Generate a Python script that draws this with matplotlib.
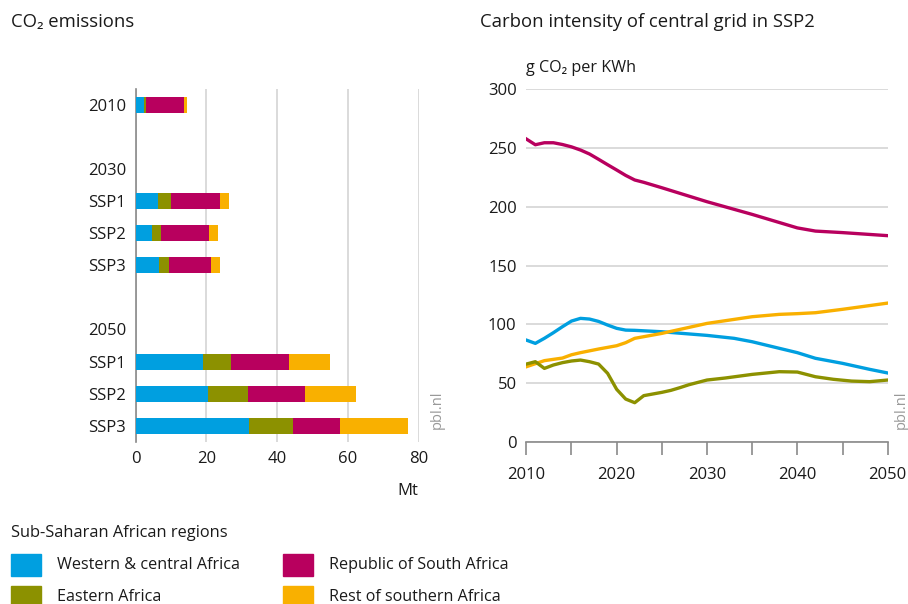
import matplotlib.pyplot as plt
from matplotlib.patches import Rectangle

plt.rcParams['font.family'] = ['Open Sans', 'DejaVu Sans']

# left chart: CO2 emissions (Mt), stacked by region
row_labels = ['2010', '', '2030', 'SSP1', 'SSP2', 'SSP3', '', '2050', 'SSP1', 'SSP2', 'SSP3']
bar_rows = [0, 3, 4, 5, 8, 9, 10]
western_central = [2.3, 6.2, 4.5, 6.6, 19.1, 20.4, 32.0]
eastern = [0.5, 3.8, 2.7, 2.8, 7.8, 11.3, 12.5]
south_africa = [10.8, 13.8, 13.5, 11.9, 16.4, 16.2, 13.3]
rest_southern = [0.8, 2.6, 2.6, 2.5, 11.6, 14.4, 19.2]

# right chart: carbon intensity (g CO2 per KWh), SSP2
yr_magenta = [2010, 2011, 2012, 2013, 2014, 2015, 2016, 2017, 2018, 2019, 2020, 2021, 2022,
              2023, 2025, 2030, 2035, 2040, 2042, 2045, 2050]
val_magenta = [257.7, 252.8, 254.5, 254.5, 253, 251, 248.3, 244.9, 240.4, 235.8, 231.3, 226.7,
               222.8, 220.8, 216.2, 204.3, 193.5, 182, 179.3, 178, 175.4]
yr_blue = [2010, 2011, 2012, 2013, 2014, 2015, 2016, 2017, 2018, 2019, 2020, 2021, 2022,
           2025, 2030, 2033, 2035, 2038, 2040, 2042, 2045, 2048, 2050]
val_blue = [86.5, 83.7, 88, 92.8, 97.9, 102.7, 105, 104.4, 102.4, 99.3, 96.5, 95, 94.8,
            93.6, 90.5, 88, 85.1, 79.5, 75.8, 71, 66.7, 61.6, 58.5]
yr_orange = [2010, 2012, 2014, 2015, 2016, 2018, 2020, 2021, 2022, 2023, 2025, 2027, 2030,
             2035, 2038, 2040, 2042, 2045, 2050]
val_orange = [63.8, 69, 71.2, 74, 75.8, 78.9, 81.7, 84.3, 88, 89.4, 92.2, 95.6, 100.7,
              106.4, 108.4, 109, 109.8, 112.7, 118]
yr_olive = [2010, 2011, 2012, 2013, 2014, 2015, 2016, 2017, 2018, 2019, 2020, 2021, 2022,
            2023, 2024, 2025, 2026, 2027, 2028, 2030, 2032, 2035, 2038, 2040, 2042, 2044,
            2046, 2048, 2050]
val_olive = [66.1, 68.1, 62.4, 65.3, 67.3, 68.7, 69.5, 68.1, 66.1, 58.2, 44.6, 36.3, 33.2,
             39.2, 40.6, 42, 43.7, 46, 48.5, 52.5, 54.2, 57.3, 59.6, 59.3, 55.3, 53.1,
             51.6, 51.1, 52.5]

blue = '#009fe0'
olive = '#8c9100'
magenta = '#b8005e'
orange = '#f9b000'
txt = '#1a1a1a'
grid = '#d4d4d4'
axis_c = '#8a8a8a'

W, H = 908, 604
fig = plt.figure(figsize=(W / 100, H / 100), dpi=100)


def box(x0, y0, x1, y1):
    return [x0 / W, 1 - y1 / H, (x1 - x0) / W, (y1 - y0) / H]


# ---- left: stacked bars
ax1 = fig.add_axes(box(135.7, 89, 418.7, 441.7))
left = [0] * len(bar_rows)
for vals, c in [(western_central, blue), (eastern, olive), (south_africa, magenta), (rest_southern, orange)]:
    ax1.barh(bar_rows, vals, left=left, height=0.5, color=c, zorder=3)
    left = [l + v for l, v in zip(left, vals)]
ax1.set_xlim(0, 80)
ax1.set_ylim(10.5, -0.5)
ax1.set_xticks([0, 20, 40, 60, 80])
ax1.set_yticks(range(len(row_labels)))
ax1.set_yticklabels(row_labels)
ax1.xaxis.grid(True, color=grid, lw=1.2, zorder=0)
for s in ['top', 'right', 'bottom']:
    ax1.spines[s].set_visible(False)
ax1.spines['left'].set_color(axis_c)
ax1.spines['left'].set_linewidth(1.2)
ax1.tick_params(length=0, labelsize=12, colors=txt, pad=7)
ax1.tick_params(axis='x', pad=7)

# ---- right: lines
ax2 = fig.add_axes(box(526.3, 89.3, 887.7, 441.7))
ax2.plot(yr_magenta, val_magenta, color=magenta, lw=2.4, zorder=3)
ax2.plot(yr_blue, val_blue, color=blue, lw=2.4, zorder=3)
ax2.plot(yr_orange, val_orange, color=orange, lw=2.4, zorder=3)
ax2.plot(yr_olive, val_olive, color=olive, lw=2.4, zorder=3)
ax2.set_xlim(2010, 2050)
ax2.set_ylim(0, 300)
ax2.set_xticks([2010, 2020, 2030, 2040, 2050])
ax2.set_xticks(range(2015, 2050, 10), minor=True)
ax2.set_yticks([0, 50, 100, 150, 200, 250, 300])
ax2.yaxis.grid(True, color=grid, lw=1.2, zorder=0)
for s in ['top', 'right', 'left']:
    ax2.spines[s].set_visible(False)
ax2.spines['bottom'].set_color(axis_c)
ax2.spines['bottom'].set_linewidth(1.2)
ax2.tick_params(axis='y', length=0, labelsize=12, colors=txt, pad=7)
ax2.tick_params(axis='x', which='both', length=9, width=1.2, color=axis_c, labelsize=12,
                labelcolor=txt, pad=9)

# ---- texts
fig.text(11 / W, 1 - 22 / H, 'CO₂ emissions', fontsize=13.3, color=txt, va='center')
fig.text(480 / W, 1 - 22 / H, 'Carbon intensity of central grid in SSP2', fontsize=13.3,
         color=txt, va='center')
fig.text(526 / W, 1 - 68 / H, 'g CO₂ per KWh', fontsize=11.6, color=txt, va='center')
fig.text(418 / W, 1 - 491 / H, 'Mt', fontsize=12, color=txt, va='center', ha='right')
fig.text(437 / W, 1 - 410 / H, 'pbl.nl', fontsize=10.5, color='#999999', rotation=90,
         va='center', ha='center')
fig.text(901 / W, 1 - 410 / H, 'pbl.nl', fontsize=10.5, color='#999999', rotation=90,
         va='center', ha='center')

# ---- legend
fig.text(11 / W, 1 - 533 / H, 'Sub-Saharan African regions', fontsize=11.8, color=txt, va='center')
legend_items = [('Western & central Africa', blue, 11, 554),
                ('Eastern Africa', olive, 11, 586),
                ('Republic of South Africa', magenta, 283, 554),
                ('Rest of southern Africa', orange, 283, 586)]
for label, c, x0, y0 in legend_items:
    fig.patches.append(Rectangle((x0 / W, 1 - (y0 + 22) / H), 30 / W, 22 / H,
                                 transform=fig.transFigure, color=c))
    fig.text((x0 + 46) / W, 1 - (y0 + 11) / H, label, fontsize=11.6, color=txt, va='center')

fig.savefig('out.png', dpi=100)
